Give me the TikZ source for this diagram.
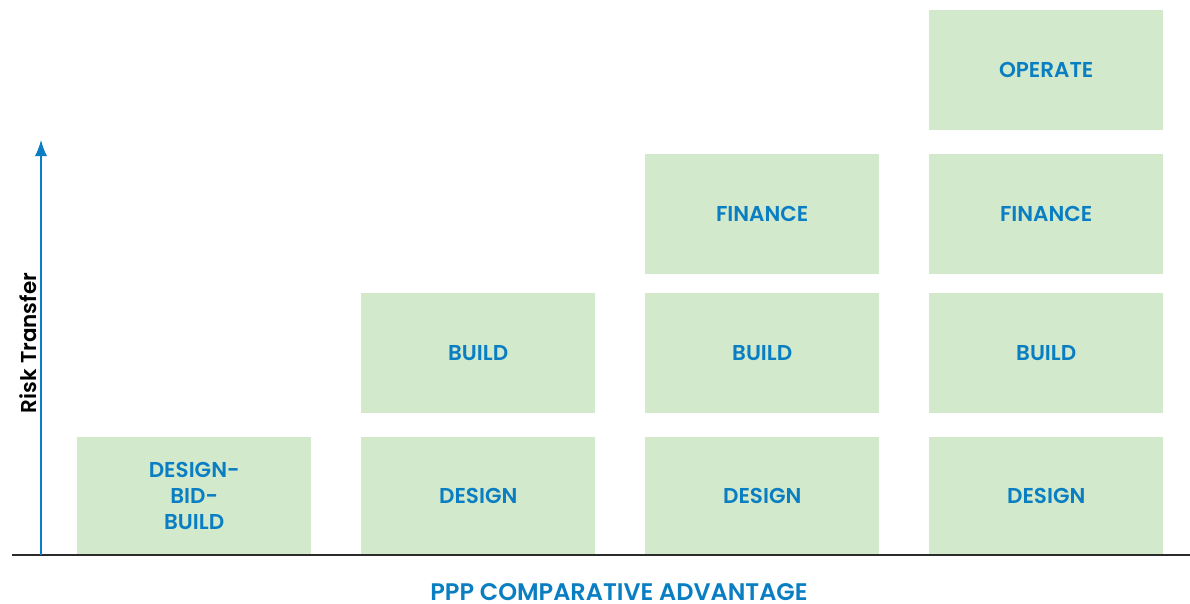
\documentclass[tikz,border=0pt]{standalone}
\usepackage{fontspec}
\setmainfont{Poppins}[BoldFont={Poppins SemiBold}]
\usetikzlibrary{arrows.meta}
\definecolor{boxgreen}{HTML}{D3E9CC}
\definecolor{txtblue}{HTML}{0A7EC2}
\definecolor{axisgray}{HTML}{2B2B2B}
\begin{document}
\begin{tikzpicture}[x=1pt,y=-1pt,
  stage/.style={fill=boxgreen, draw=none, minimum width=234pt, minimum height=120pt, inner sep=0pt,
    text=txtblue, font=\fontsize{21.5}{26}\selectfont\bfseries, align=center, anchor=north west},
  ]
\useasboundingbox (0,0) rectangle (1190,603);
% column 1
\node[stage, minimum height=118pt] (dbb) at (77,437) {DESIGN-\\BID-\\BUILD};
% column 2
\node[stage, minimum height=118pt] (d2) at (361,437) {DESIGN};
\node[stage] (b2) at (361,293) {BUILD};
% column 3
\node[stage, minimum height=118pt] (d3) at (645,437) {DESIGN};
\node[stage] (b3) at (645,293) {BUILD};
\node[stage] (f3) at (645,154) {FINANCE};
% column 4
\node[stage, minimum height=118pt] (d4) at (929,437) {DESIGN};
\node[stage] (b4) at (929,293) {BUILD};
\node[stage] (f4) at (929,154) {FINANCE};
\node[stage] (o4) at (929,10) {OPERATE};
% axes
\coordinate (xl) at (12,555);
\coordinate (xr) at (1190,555);
\coordinate (ys) at (41,555);
\coordinate (ye) at (41,140);
\draw[axisgray, line width=2.2pt] (xl) -- (xr);
\draw[txtblue, line width=1.2pt, -{Latex[length=16pt,width=12pt]}] (ys) -- (ye);
\node[rotate=90, anchor=base, inner sep=0pt, font=\fontsize{21.5}{24}\selectfont\bfseries, text=black] (ylab) at (36,343) {Risk Transfer};
\node[anchor=base, inner sep=0pt, font=\fontsize{24}{26}\selectfont\bfseries, text=txtblue] (xlab) at (619,600) {PPP COMPARATIVE ADVANTAGE};
\end{tikzpicture}
\end{document}
